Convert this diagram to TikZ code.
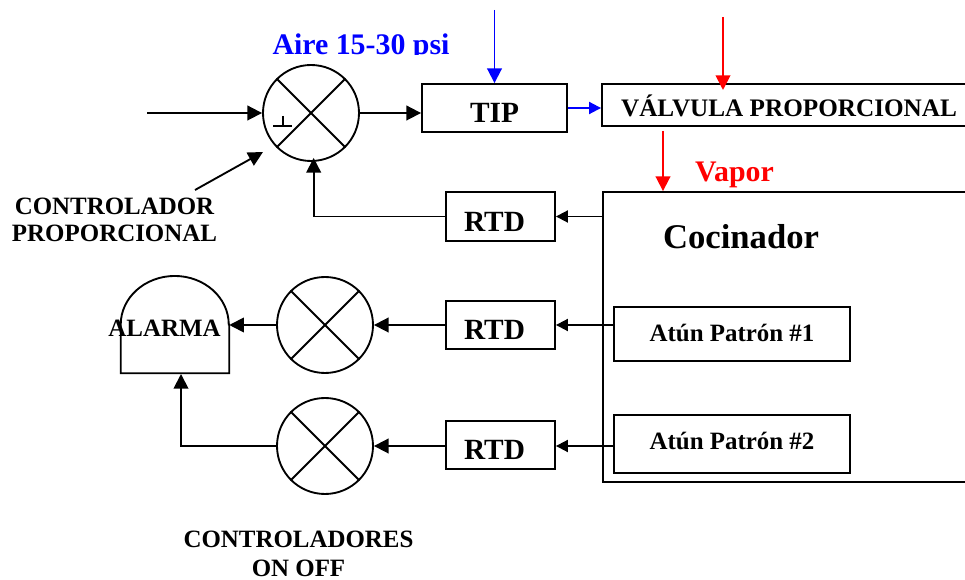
\documentclass[tikz,border=0pt]{standalone}
\usepackage{fontspec}
\setmainfont{Liberation Serif}
\usetikzlibrary{arrows.meta}

\tikzset{
	wire/.style={line width=1.4pt, -{Triangle[length=11pt, width=11pt]}},
	smallwire/.style={line width=1.4pt, -{Triangle[length=9pt, width=9pt]}},
	box/.style={draw, line width=1.4pt, inner sep=0pt, text height=22pt, text depth=0pt, font=\bfseries\fontsize{22}{24}\selectfont},
	smallbox/.style={draw, line width=1.4pt, inner sep=0pt, font=\bfseries\fontsize{18.7}{20.5}\selectfont},
	sum/.style={draw, circle, line width=1.4pt, minimum size=72pt, inner sep=0pt},
	label/.style={inner sep=0pt, align=center, font=\bfseries\fontsize{18.7}{20.5}\selectfont}
}

\begin{document}
\begin{tikzpicture}[x=0.75pt, y=-0.75pt]

	\clip (0,0) rectangle (965,580);

	% Define the nodes
	\node[sum] (sum1) at (311,113) {};
	\node[sum] (sum2) at (325,325) {};
	\node[sum] (sum3) at (325,446) {};
	\node[box, minimum width=108.75pt, minimum height=36pt] (tip) at (494.5,108) {TIP};
	\node[smallbox, minimum width=280.5pt, minimum height=31.5pt, text height=18pt, text depth=0pt, font=\bfseries\fontsize{18.9}{20.5}\selectfont] (valvula) at (789,105) {VÁLVULA PROPORCIONAL};
	\node[box, minimum width=81.75pt, minimum height=36.5pt] (rtd1) at (500.5,216.5) {RTD\kern9pt};
	\node[box, minimum width=81.75pt, minimum height=36.5pt] (rtd2) at (500.5,325) {RTD\kern9pt};
	\node[box, minimum width=81.75pt, minimum height=36.5pt] (rtd3) at (500.5,445) {RTD\kern9pt};
	\node[draw, line width=1.4pt, inner sep=0pt, minimum width=286.5pt, minimum height=217.5pt] (cocinador) at (794,337) {};
	\node[smallbox, minimum width=177pt, minimum height=40.5pt, text height=10.8pt, text depth=0pt] (atun1) at (732,334) {Atún Patrón \#1};
	\node[smallbox, minimum width=177pt, minimum height=43.5pt, text height=7.8pt, text depth=0pt] (atun2) at (732,444) {Atún Patrón \#2};
	\node[inner sep=0pt, minimum width=81pt, minimum height=72.75pt] (alarma) at (175,324.5) {};

	% Define the free ends
	\coordinate (entrada) at (147,113);
	\coordinate (controlstart) at (195,190);
	\coordinate (controlend) at (263,152);
	\coordinate (aireup) at (494.5,10);
	\coordinate (vaporup) at (723,17);
	\coordinate (vaporin) at (723,90);
	\coordinate (vapordown) at (663,131);

	% Crosses in the circles
	\foreach \n in {sum1,sum2,sum3} {
		\draw[line width=1.4pt] (\n.45) -- (\n.225);
		\draw[line width=1.4pt] (\n.135) -- (\n.315);
	}
	\draw[line width=1.4pt] (273,126) -- (292,126);
	\draw[line width=1.4pt] (283,116) -- (283,126);

	% Alarm outline
	\draw[line width=1.4pt] (alarma.east) -- (alarma.south east) -- (alarma.south west) -- (alarma.west) arc[start angle=180, end angle=0, x radius=40.5pt, y radius=36.4pt] -- cycle;

	% Define the edges
	\draw[wire] (entrada) -- (sum1.west);
	\draw[wire] (sum1.east) -- (sum1.east -| tip.west);
	\draw[wire] (controlstart) -- (controlend);
	\draw[wire] (rtd1.west) -| ([xshift=2pt, yshift=3pt]sum1.south);
	\draw[wire, blue] (aireup) -- (tip.north);
	\draw[smallwire, blue] (tip.east) -- (valvula.west |- tip.east);
	\draw[wire, red] (vaporup) -- (vaporin);
	\draw[wire, red] (vapordown) -- (vapordown |- cocinador.north);
	\draw[smallwire] (cocinador.west |- rtd1.east) -- (rtd1.east);
	\draw[smallwire] (atun1.west |- rtd2.east) -- (rtd2.east);
	\draw[wire] (rtd2.west) -- (sum2.east);
	\draw[wire] (sum2.west) -- (alarma.east |- sum2.west);
	\draw[smallwire] (atun2.west |- sum3.east) -- (rtd3.east |- sum3.east);
	\draw[wire] (rtd3.west |- sum3.east) -- (sum3.east);
	\draw[wire] (sum3.west) -| (181,374);

	% Add labels
	\begin{scope}
		\clip (260,0) rectangle (460,55);
		\node[inner sep=0pt, anchor=base, text=blue, font=\bfseries\fontsize{22.4}{24}\selectfont] (aire) at (361,55) {Aire 15-30 psi};
	\end{scope}
	\node[inner sep=0pt, anchor=base, text=red, font=\bfseries\fontsize{22.4}{24}\selectfont] (vapor) at (734.5,182) {Vapor};
	\node[inner sep=0pt, anchor=base, font=\bfseries\fontsize{26}{28}\selectfont] (coclabel) at (741,249) {Cocinador};
	\node[label] (controlador) at (114.5,220) {CONTROLADOR\\PROPORCIONAL};
	\node[label, anchor=base] (alarmalabel) at (164.5,337) {ALARMA};
	\node[label, font=\bfseries\fontsize{18.7}{21.5}\selectfont] (onoff) at (298.5,554) {CONTROLADORES\\ON OFF};

\end{tikzpicture}
\end{document}
